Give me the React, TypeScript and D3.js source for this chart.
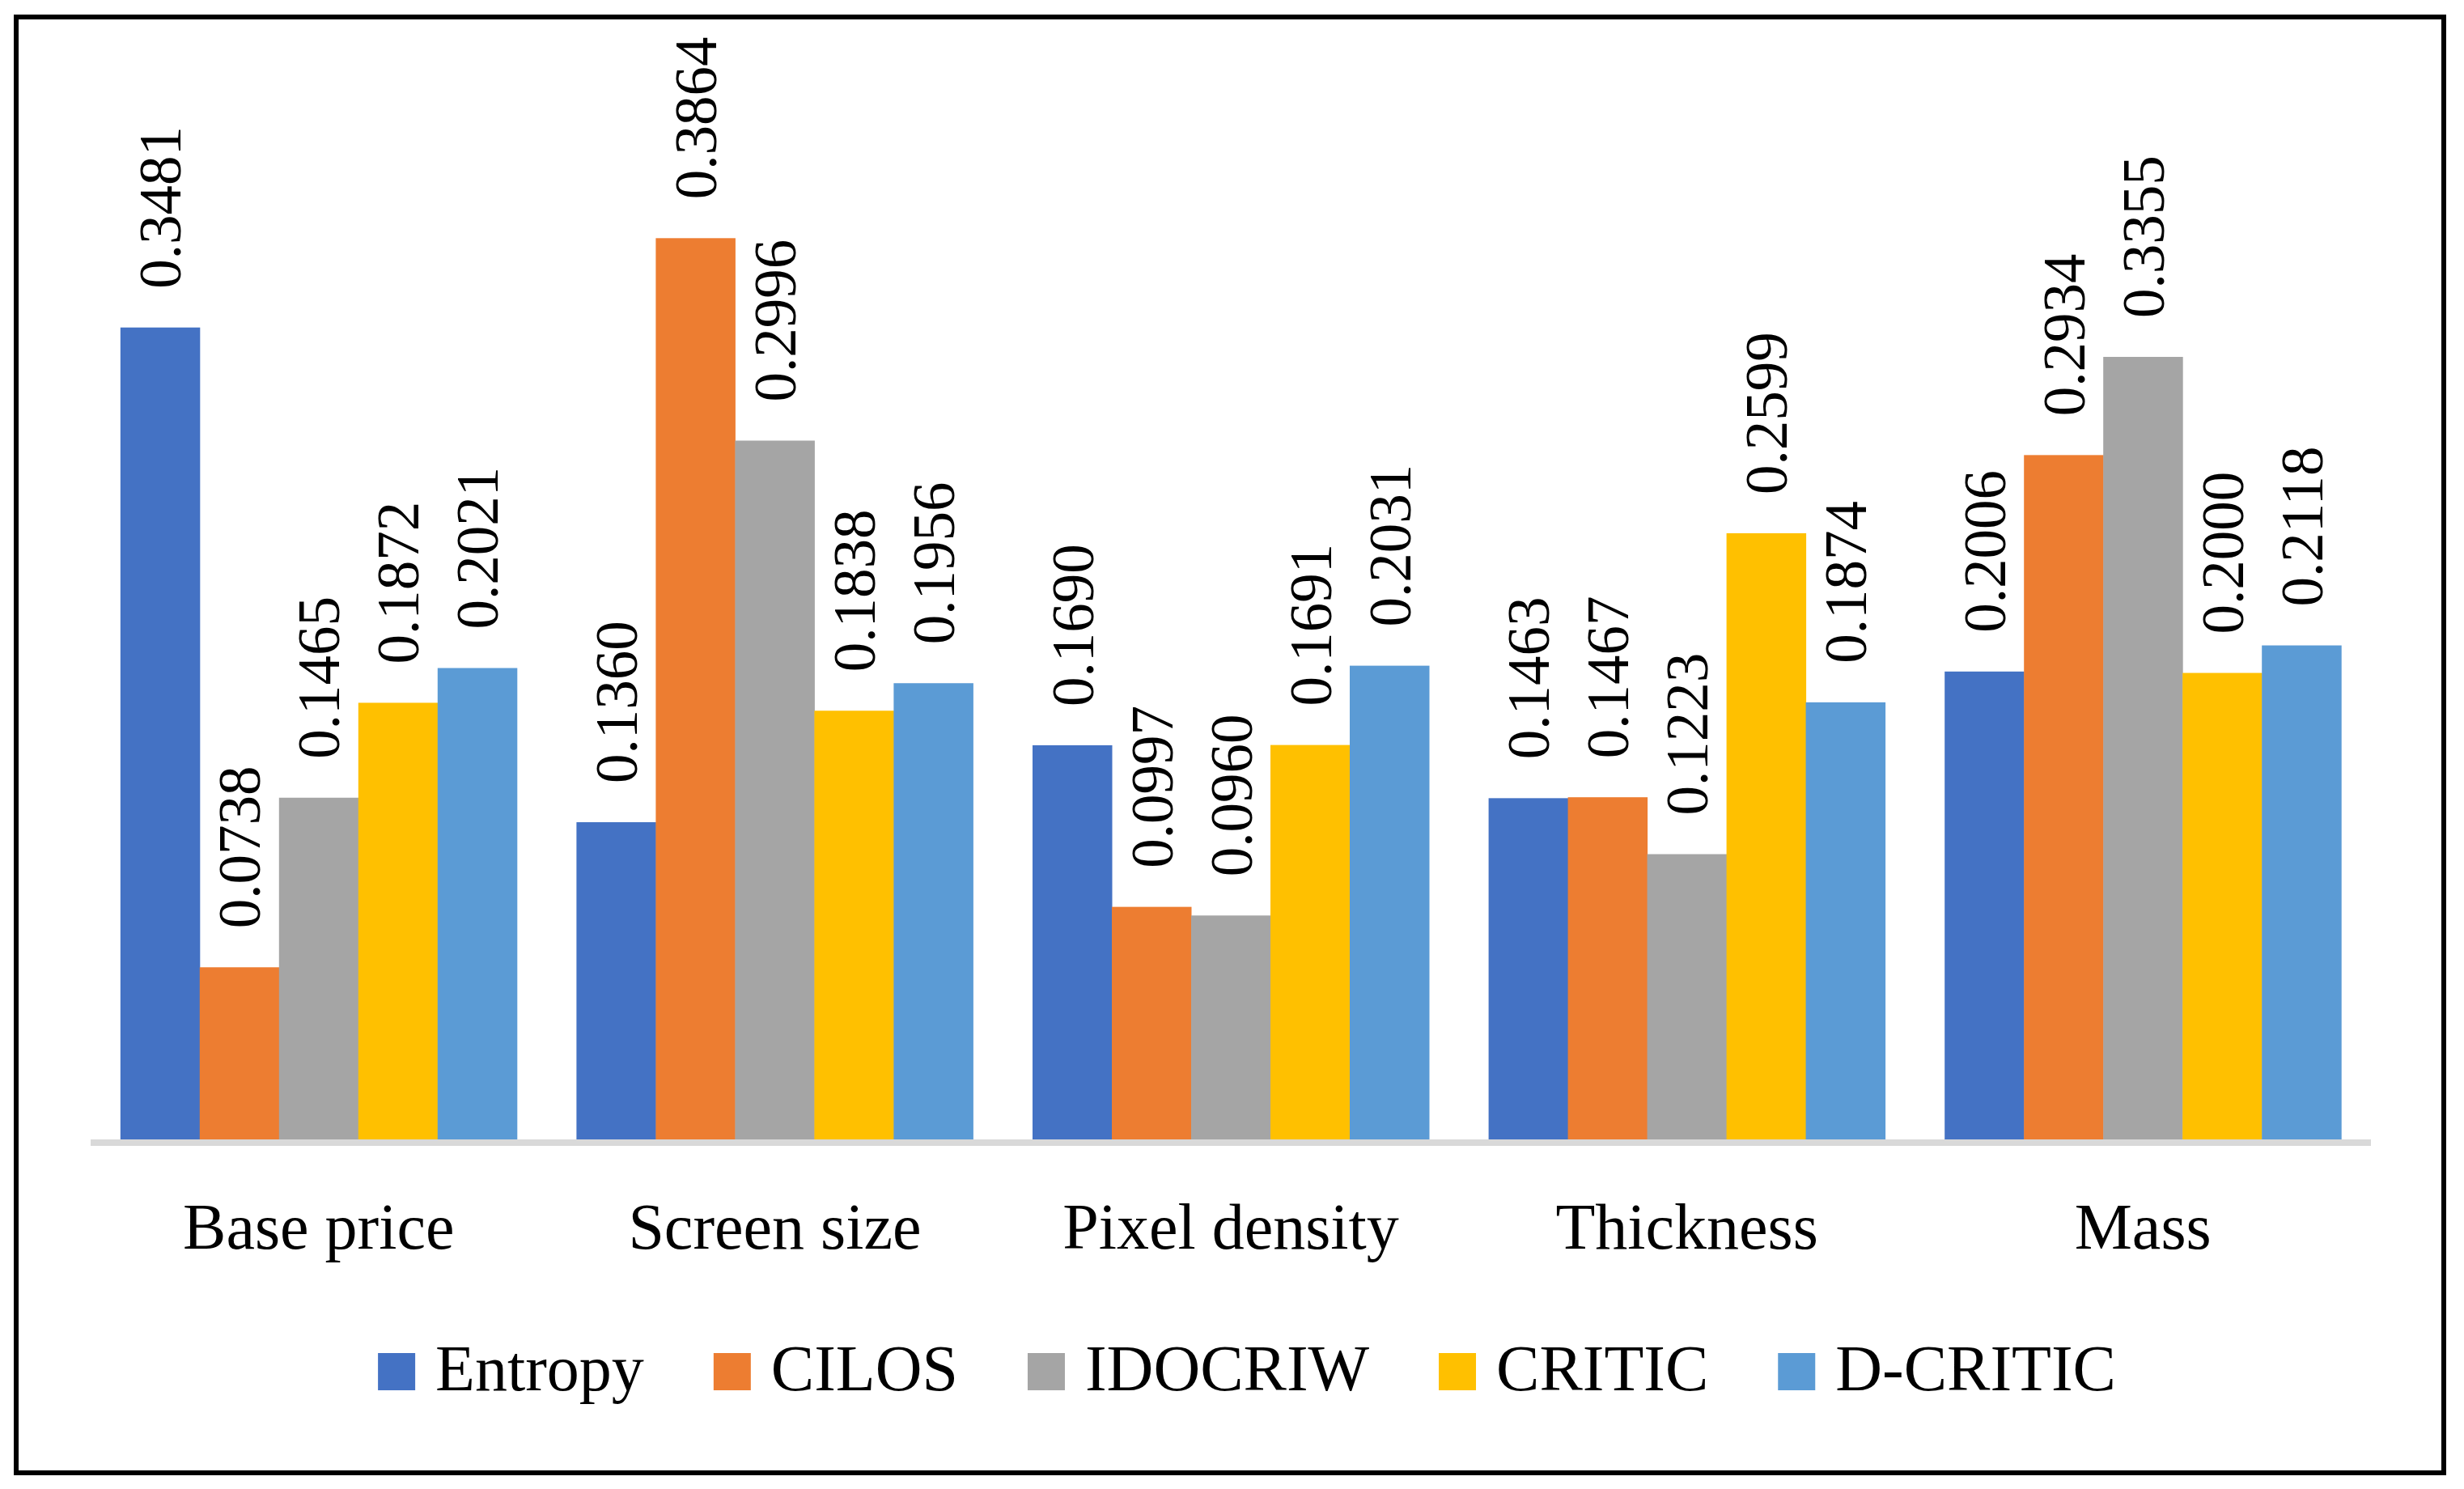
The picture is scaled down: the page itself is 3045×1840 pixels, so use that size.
import { useMemo } from "react";
import * as d3 from "d3";

const CATEGORIES = ["Base price", "Screen size", "Pixel density", "Thickness", "Mass"];
const SERIES = ["Entropy", "CILOS", "IDOCRIW", "CRITIC", "D-CRITIC"];
const COLORS = ["#4472C4", "#ED7D31", "#A5A5A5", "#FFC000", "#5B9BD5"];

const ENTROPY = [0.3481, 0.136, 0.169, 0.1463, 0.2006];
const CILOS = [0.0738, 0.3864, 0.0997, 0.1467, 0.2934];
const IDOCRIW = [0.1465, 0.2996, 0.096, 0.1223, 0.3355];
const CRITIC = [0.1872, 0.1838, 0.1691, 0.2599, 0.2];
const D_CRITIC = [0.2021, 0.1956, 0.2031, 0.1874, 0.2118];

const VALUES = [ENTROPY, CILOS, IDOCRIW, CRITIC, D_CRITIC];

const W = 3045, H = 1840;
const FONT = "'Palatino Linotype', 'Book Antiqua', Palatino, 'Liberation Serif', serif";

export default function App() {
  const x0 = d3.scaleBand<string>().domain(CATEGORIES).range([112, 2930])
    .paddingInner(0.1306).paddingOuter(0.0653);
  const x1 = d3.scaleBand<string>().domain(SERIES).range([0, x0.bandwidth()]);
  const y = d3.scaleLinear().domain([0, 0.45]).range([1408, 111]);

  // legend layout from measured text widths
  const legend = useMemo(() => {
    const ctx = document.createElement("canvas").getContext("2d");
    const widths = SERIES.map(s => {
      if (!ctx) return s.length * 40;
      ctx.font = `80px ${FONT}`;
      return ctx.measureText(s).width;
    });
    const box = 46, gapText = 25, gapItem = 86;
    const total = d3.sum(widths) + SERIES.length * (box + gapText) + (SERIES.length - 1) * gapItem;
    let cx = 1541 - total / 2;
    return SERIES.map((s, i) => {
      const item = { s, i, x: cx };
      cx += box + gapText + widths[i] + gapItem;
      return item;
    });
  }, []);

  return (
    <svg width={W} height={H} style={{ position: "absolute", left: 0, top: 0, background: "white" }}
      fontFamily={FONT}>
      <rect x={0} y={0} width={W} height={H} fill="white" />
      <rect x={20} y={21} width={3000} height={1799} fill="none" stroke="#000" strokeWidth={6} />

      {CATEGORIES.map((c, ci) => (
        <g key={c} transform={`translate(${x0(c)},0)`}>
          {SERIES.map((s, si) => {
            const v = VALUES[si][ci];
            const bx = x1(s)!;
            const cx = bx + x1.bandwidth() / 2;
            const ty = y(v) - 48;
            return (
              <g key={s}>
                <rect x={bx} y={y(v)} width={x1.bandwidth() + 0.5} height={y(0) - y(v)} fill={COLORS[si]} />
                <text transform={`translate(${cx},${ty}) rotate(-90)`} dy="0.35em" fontSize={73} fill="#000">
                  {v.toFixed(4)}
                </text>
              </g>
            );
          })}
        </g>
      ))}

      <line x1={112} x2={2930} y1={1412} y2={1412} stroke="#D9D9D9" strokeWidth={8} />

      {CATEGORIES.map(c => (
        <text key={c} x={x0(c)! + x0.bandwidth() / 2} y={1543} textAnchor="middle" fontSize={80} fill="#000">
          {c}
        </text>
      ))}

      {legend.map(({ s, i, x }) => (
        <g key={s}>
          <rect x={x} y={1672} width={46} height={46} fill={COLORS[i]} />
          <text x={x + 46 + 25} y={1718} fontSize={80} fill="#000">{s}</text>
        </g>
      ))}
    </svg>
  );
}
